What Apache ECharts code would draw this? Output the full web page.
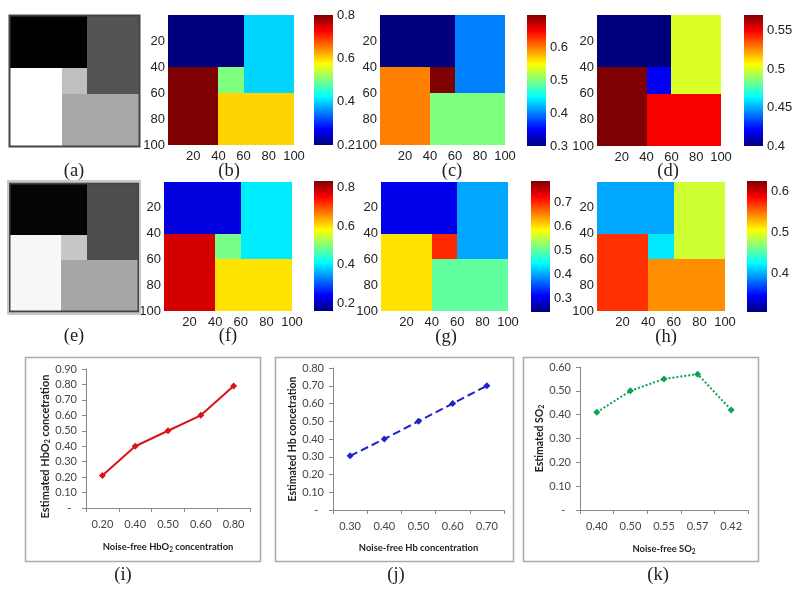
<!DOCTYPE html>
<html>
<head>
<meta charset="utf-8">
<title>Estimated concentration maps</title>
<style>
	html, body { margin: 0; padding: 0; background: #fff; }
	#main { width: 800px; height: 593px; }
</style>
<script src="https://cdn.jsdelivr.net/npm/echarts@6/dist/echarts.min.js"></script>
</head>
<body>
<div id="main"></div>
<script>
// regions of the phantom, in image units: x from, x to, y from, y to
var regions = [[0, 60, 0, 40], [60, 100, 0, 60], [0, 40, 40, 100], [40, 60, 40, 60], [40, 100, 60, 100]];

// one value per region, same order as regions
var grayA = [0, 0.33, 1, 0.75, 0.66];
var grayE = [0.02, 0.3, 0.97, 0.78, 0.65];
var valuesB = [0.20, 0.40, 0.80, 0.50, 0.60];
var valuesC = [0.30, 0.40, 0.60, 0.70, 0.50];
var valuesD = [0.40, 0.50, 0.57, 0.42, 0.55];
var valuesF = [0.22, 0.40, 0.78, 0.49, 0.60];
var valuesG = [0.30, 0.40, 0.60, 0.70, 0.50];
var valuesH = [0.40, 0.49, 0.57, 0.42, 0.54];

// colour bar ranges and labels
var rangeB = [0.2, 0.8], ticksB = [0.2, 0.4, 0.6, 0.8];
var rangeC = [0.3, 0.7], ticksC = [0.3, 0.4, 0.5, 0.6];
var rangeD = [0.4, 0.57], ticksD = [0.4, 0.45, 0.5, 0.55];
var rangeF = [0.158, 0.836], ticksF = [0.2, 0.4, 0.6, 0.8];
var rangeG = [0.242, 0.79], ticksG = [0.3, 0.4, 0.5, 0.6, 0.7];
var rangeH = [0.308, 0.624], ticksH = [0.4, 0.5, 0.6];

// line charts
var categoriesI = ['0.20', '0.40', '0.50', '0.60', '0.80'];
var estimatedI = [0.21, 0.40, 0.50, 0.60, 0.79];
var categoriesJ = ['0.30', '0.40', '0.50', '0.60', '0.70'];
var estimatedJ = [0.305, 0.40, 0.50, 0.60, 0.70];
var categoriesK = ['0.40', '0.50', '0.55', '0.57', '0.42'];
var estimatedK = [0.41, 0.50, 0.55, 0.57, 0.42];

var jet = ['#00007f', '#0000ff', '#007fff', '#00ffff', '#7fff7f', '#ffff00', '#ff7f00', '#ff0000', '#7f0000'];
var gray = ['#000000', '#ffffff'];
var labelFont = '"Liberation Sans", Arial, sans-serif';
var chartFont = 'Lato, "Open Sans", sans-serif';

var grids = [], xAxes = [], yAxes = [], seriesList = [], visualMaps = [];

function addGrid(box) {
	grids.push({ left: box[0], top: box[1], width: box[2], height: box[3], containLabel: false });
	return grids.length - 1;
}

function regionData(values) {
	var data = [];
	for (var i = 0; i < regions.length; i++) {
		data.push(regions[i].concat(values[i]));
	}
	return data;
}

function renderRegion(params, api) {
	var p0 = api.coord([api.value(0), api.value(2)]);
	var p1 = api.coord([api.value(1), api.value(3)]);
	var x = Math.round(p0[0]), y = Math.round(p0[1]);
	return {
		type: 'rect',
		shape: { x: x, y: y, width: Math.round(p1[0]) - x, height: Math.round(p1[1]) - y },
		style: { fill: api.visual('color') }
	};
}

function addImage(box, values, range, colors, showAxis) {
	var idx = addGrid(box);
	xAxes.push({
		gridIndex: idx, type: 'value', min: 0, max: 100, interval: 20,
		position: 'bottom', splitLine: { show: false }, axisLine: { show: false }, axisTick: { show: false },
		axisLabel: { show: showAxis, showMinLabel: false, fontFamily: labelFont, fontSize: 13, color: '#222', margin: 5 }
	});
	yAxes.push({
		gridIndex: idx, type: 'value', min: 0, max: 100, interval: 20, inverse: true,
		position: 'left', splitLine: { show: false }, axisLine: { show: false }, axisTick: { show: false },
		axisLabel: { show: showAxis, showMinLabel: false, fontFamily: labelFont, fontSize: 13, color: '#222', margin: 3, padding: [0, 0, 5, 0] }
	});
	seriesList.push({
		type: 'custom',
		xAxisIndex: idx,
		yAxisIndex: idx,
		renderItem: renderRegion,
		encode: { x: [0, 1], y: [2, 3] },
		data: regionData(values),
		animation: false
	});
	visualMaps.push({
		show: false,
		seriesIndex: seriesList.length - 1,
		dimension: 4,
		min: range[0],
		max: range[1],
		inRange: { color: colors }
	});
}

function renderBar(params, api) {
	var p0 = api.coord([0, api.value(0)]);
	var p1 = api.coord([1, api.value(1)]);
	var stops = [];
	for (var i = 0; i < jet.length; i++) {
		stops.push({ offset: i / (jet.length - 1), color: jet[i] });
	}
	return {
		type: 'rect',
		shape: { x: p0[0], y: p1[1], width: p1[0] - p0[0], height: p0[1] - p1[1] },
		style: { fill: new echarts.graphic.LinearGradient(0, 1, 0, 0, stops) }
	};
}

function addColorBar(box, range, ticks) {
	var idx = addGrid(box);
	xAxes.push({ gridIndex: idx, type: 'value', min: 0, max: 1, show: false });
	yAxes.push({
		gridIndex: idx, type: 'value', min: range[0], max: range[1], position: 'right',
		splitLine: { show: false }, axisLine: { show: false }, axisTick: { show: false },
		axisLabel: {
			customValues: ticks,
			margin: 4,
			fontFamily: labelFont,
			fontSize: 13,
			color: '#222',
			formatter: function(v) { return String(v); }
		}
	});
	seriesList.push({
		type: 'custom',
		xAxisIndex: idx,
		yAxisIndex: idx,
		renderItem: renderBar,
		data: [[range[0], range[1]]],
		animation: false
	});
}

function addLineChart(cfg) {
	var idx = addGrid(cfg.box);
	var subX = { s: { fontSize: 6.5, fontWeight: 'bold', fontFamily: chartFont, color: '#222', padding: [5, 0, 0, 0] } };
	var subY = { s: { fontSize: 7, fontWeight: 'bold', fontFamily: chartFont, color: '#222', padding: [5, 0, 0, 0] } };
	xAxes.push({
		gridIndex: idx, type: 'category', data: cfg.categories, boundaryGap: true,
		name: cfg.xName, nameLocation: 'middle', nameGap: 33,
		nameTextStyle: { fontFamily: chartFont, fontSize: 9.4, fontWeight: 'bold', color: '#222', rich: subX },
		axisLine: { lineStyle: { color: '#888', width: 1 } },
		axisTick: { show: true, length: 4, alignWithLabel: false, lineStyle: { color: '#888' } },
		axisLabel: { interval: 0, margin: 11, fontFamily: chartFont, fontSize: 11, color: '#444' }
	});
	yAxes.push({
		gridIndex: idx, type: 'value', min: 0, max: cfg.max, interval: 0.1,
		name: cfg.yName, nameLocation: 'middle', nameGap: cfg.yGap, nameRotate: 90,
		nameTextStyle: { fontFamily: chartFont, fontSize: cfg.yFont, fontWeight: 'bold', color: '#222', padding: cfg.yPad, rich: subY },
		splitLine: { show: false },
		axisLine: { show: true, lineStyle: { color: '#888', width: 1 } },
		axisTick: { show: true, length: 4, lineStyle: { color: '#888' } },
		axisLabel: {
			margin: 9,
			fontFamily: chartFont,
			fontSize: 11,
			color: '#444',
			formatter: function(v) { return v === 0 ? '-  ' : v.toFixed(2); }
		}
	});
	seriesList.push({
		type: 'line',
		xAxisIndex: idx,
		yAxisIndex: idx,
		data: cfg.values,
		symbol: 'diamond',
		symbolSize: 7,
		itemStyle: { color: cfg.color },
		lineStyle: { color: cfg.color, width: 2, type: cfg.lineType },
		animation: false
	});
}

addImage([10, 16, 129, 130], grayA, [0, 1], gray, false);
addImage([168, 15, 126, 130], valuesB, rangeB, jet, true);
addColorBar([314, 15, 19, 130], rangeB, ticksB);
addImage([380, 15, 125, 130], valuesC, rangeC, jet, true);
addColorBar([527, 15, 19, 131], rangeC, ticksC);
addImage([597, 15, 124, 131], valuesD, rangeD, jet, true);
addColorBar([744, 15, 19, 131], rangeD, ticksD);

addImage([10, 184, 128, 127], grayE, [0, 1], gray, false);
addImage([164, 182, 128, 129], valuesF, rangeF, jet, true);
addColorBar([314, 181, 19, 130], rangeF, ticksF);
addImage([381, 182, 127, 129], valuesG, rangeG, jet, true);
addColorBar([531, 181, 19, 131], rangeG, ticksG);
addImage([597, 182, 128, 129], valuesH, rangeH, jet, true);
addColorBar([747, 181, 20, 131], rangeH, ticksH);

addLineChart({
	box: [86, 369, 164, 139], categories: categoriesI, values: estimatedI, max: 0.9,
	xName: 'Noise-free HbO{s|2} concentration', yName: 'Estimated HbO{s|2} concetration', yGap: 35,
	yFont: 11, yPad: [0, 16, 0, 0],
	color: '#d8141c', lineType: 'solid'
});
addLineChart({
	box: [333, 368, 171, 142], categories: categoriesJ, values: estimatedJ, max: 0.8,
	xName: 'Noise-free Hb concentration', yName: 'Estimated Hb concetration', yGap: 33,
	yFont: 10.5, yPad: 0,
	color: '#2222cc', lineType: 'dashed'
});
addLineChart({
	box: [580, 367, 168, 143], categories: categoriesK, values: estimatedK, max: 0.6,
	xName: 'Noise-free SO{s|2}', yName: 'Estimated SO{s|2}', yGap: 31,
	yFont: 10.5, yPad: 0,
	color: '#0aa550', lineType: 'dotted'
});

function frame(x, y, w, h, color, width) {
	return {
		type: 'rect', z: 100,
		shape: { x: x, y: y, width: w, height: h },
		style: { fill: 'none', stroke: color, lineWidth: width }
	};
}

function caption(text, x, y) {
	return {
		type: 'text', z: 100, x: x, y: y,
		style: { text: text, font: '18.5px "Liberation Serif", serif', fill: '#222', textAlign: 'center', textVerticalAlign: 'middle' }
	};
}

var graphics = [
	frame(9.5, 15.5, 130, 131, '#444', 2),
	frame(9.5, 183.5, 129, 128, '#444', 2),
	frame(8, 181, 132, 133, '#c8c8c8', 2),
	frame(25.5, 357.5, 235, 204, '#aaa', 1.5),
	frame(275.5, 357.5, 238, 204, '#aaa', 1.5),
	frame(523.5, 357.5, 235, 204, '#aaa', 1.5),
	caption('(a)', 74, 171), caption('(b)', 229, 171), caption('(c)', 452, 171), caption('(d)', 668, 171),
	caption('(e)', 74, 336), caption('(f)', 228, 336), caption('(g)', 446, 337), caption('(h)', 666, 337),
	caption('(i)', 123, 575), caption('(j)', 396, 575), caption('(k)', 658, 575)
];

var myChart = echarts.init(document.getElementById('main'));
myChart.setOption({
	animation: false,
	backgroundColor: '#fff',
	grid: grids,
	xAxis: xAxes,
	yAxis: yAxes,
	visualMap: visualMaps,
	series: seriesList,
	graphic: graphics
});
</script>
</body>
</html>
